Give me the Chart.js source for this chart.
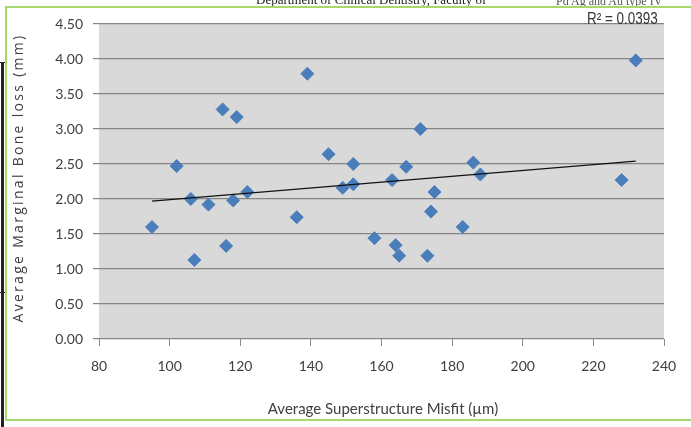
<!DOCTYPE html>
<html>
<head>
<meta charset="utf-8">
<script src="https://cdn.jsdelivr.net/npm/chart.js@4/dist/chart.umd.min.js"></script>
<style>
    html, body { margin: 0; padding: 0; background: #fff; }
    #wrap { position: relative; width: 691px; height: 427px; overflow: hidden; }
    #chart { position: absolute; left: 0; top: 0; }
    .txt { position: absolute; white-space: nowrap; }
    #header1 { left: 256px; top: -8px; font: 13px "Liberation Serif", serif; color: #222; }
    #header2 { left: 556px; top: -6px; font: 12px "Liberation Serif", serif; color: #555; }
    #rsq { left: 587px; top: 10px; font: 16px "Liberation Sans", sans-serif; color: #333;
           transform: scaleX(0.84); transform-origin: left center; }
    #ytitle { left: 17px; top: 178px; transform: translate(-50%, -50%) rotate(-90deg);
              font: 14px "Open Sans", sans-serif; letter-spacing: 2.3px; color: #404040; }
    #xtitle { left: 383px; top: 408px; transform: translate(-50%, -50%);
              font: 15px Lato, sans-serif; color: #404040; }
    .green { position: absolute; background: #a6d86f; }
    .black { position: absolute; background: #222; }
</style>
</head>
<body>
<div id="wrap">
    <canvas id="chart" width="691" height="427"></canvas>
    <div class="txt" id="header1">Department of Clinical Dentistry, Faculty of</div>
    <div class="txt" id="header2">Pd Ag and Au type IV</div>
    <div class="green" style="left:5px; top:6px; width:686px; height:2px;"></div>
    <div class="green" style="left:5px; top:6px; width:2px; height:415px;"></div>
    <div class="green" style="left:5px; top:419px; width:686px; height:2px;"></div>
    <div class="black" style="left:1px; top:62px; width:3px; height:365px;"></div>
    <div class="black" style="left:0px; top:62px; width:5px; height:1px;"></div>
    <div class="black" style="left:0px; top:292px; width:5px; height:1px;"></div>
    <div class="txt" id="rsq">R² = 0.0393</div>
    <div class="txt" id="ytitle">Average Marginal Bone loss (mm)</div>
    <div class="txt" id="xtitle">Average Superstructure Misfit (µm)</div>
</div>
<script>
// --------------------
// Data
// --------------------
const misfit = [95, 102, 106, 107, 111, 115, 116, 118, 119, 122,
                136, 139, 145, 149, 152, 152, 158, 163, 164, 165,
                167, 171, 173, 174, 175, 183, 186, 188, 228, 232];
const boneLoss = [1.60, 2.47, 2.00, 1.13, 1.92, 3.28, 1.33, 1.98, 3.17, 2.10,
                  1.74, 3.79, 2.64, 2.16, 2.50, 2.21, 1.44, 2.27, 1.34, 1.19,
                  2.46, 3.00, 1.19, 1.82, 2.10, 1.60, 2.52, 2.35, 2.27, 3.98];
const trendX = [95, 232];
const trendY = [1.97, 2.54];
const xTicks = [80, 100, 120, 140, 160, 180, 200, 220, 240];
const yTicks = [0, 0.5, 1, 1.5, 2, 2.5, 3, 3.5, 4, 4.5];

const points = misfit.map((x, i) => ({ x: x, y: boneLoss[i] }));
const trend = trendX.map((x, i) => ({ x: x, y: trendY[i] }));

// grey plot area
const plotBg = {
    id: 'plotBg',
    beforeDraw(chart) {
        const a = chart.chartArea;
        const ctx = chart.ctx;
        ctx.save();
        ctx.fillStyle = '#d9d9d9';
        ctx.fillRect(a.left, a.top, a.right - a.left, a.bottom - a.top);
        ctx.restore();
    }
};

const tickFont = { family: 'Lato', size: 14 };

new Chart(document.getElementById('chart'), {
    type: 'scatter',
    data: {
        datasets: [
            {
                label: 'Bone loss',
                data: points,
                pointStyle: 'rectRot',
                pointRadius: 6.5,
                backgroundColor: '#4a7ebb',
                borderColor: '#4a7ebb',
                borderWidth: 1,
                order: 2
            },
            {
                type: 'line',
                label: 'Linear trend',
                data: trend,
                borderColor: '#111',
                borderWidth: 1.2,
                pointRadius: 0,
                fill: false,
                order: 1
            }
        ]
    },
    options: {
        responsive: false,
        animation: false,
        layout: { padding: { left: 6, right: 27, top: 24, bottom: 0 } },
        plugins: {
            legend: { display: false },
            tooltip: { enabled: false }
        },
        scales: {
            x: {
                type: 'linear',
                min: 80,
                max: 240,
                afterBuildTicks: s => { s.ticks = xTicks.map(v => ({ value: v })); },
                afterFit: s => { s.height = 88; },
                ticks: { font: tickFont, color: '#404040', padding: 12 },
                grid: { drawOnChartArea: false, tickLength: 7, color: '#8a8a8a' },
                border: { display: false }
            },
            y: {
                min: 0,
                max: 4.5,
                afterBuildTicks: s => { s.ticks = yTicks.map(v => ({ value: v })); },
                afterFit: s => { s.width = 93; },
                ticks: {
                    font: tickFont,
                    color: '#404040',
                    padding: 10,
                    callback: v => Number(v).toFixed(2)
                },
                grid: { color: '#858585', lineWidth: 1.2, tickLength: 6 },
                border: { display: false }
            }
        }
    },
    plugins: [plotBg]
});
</script>
</body>
</html>
